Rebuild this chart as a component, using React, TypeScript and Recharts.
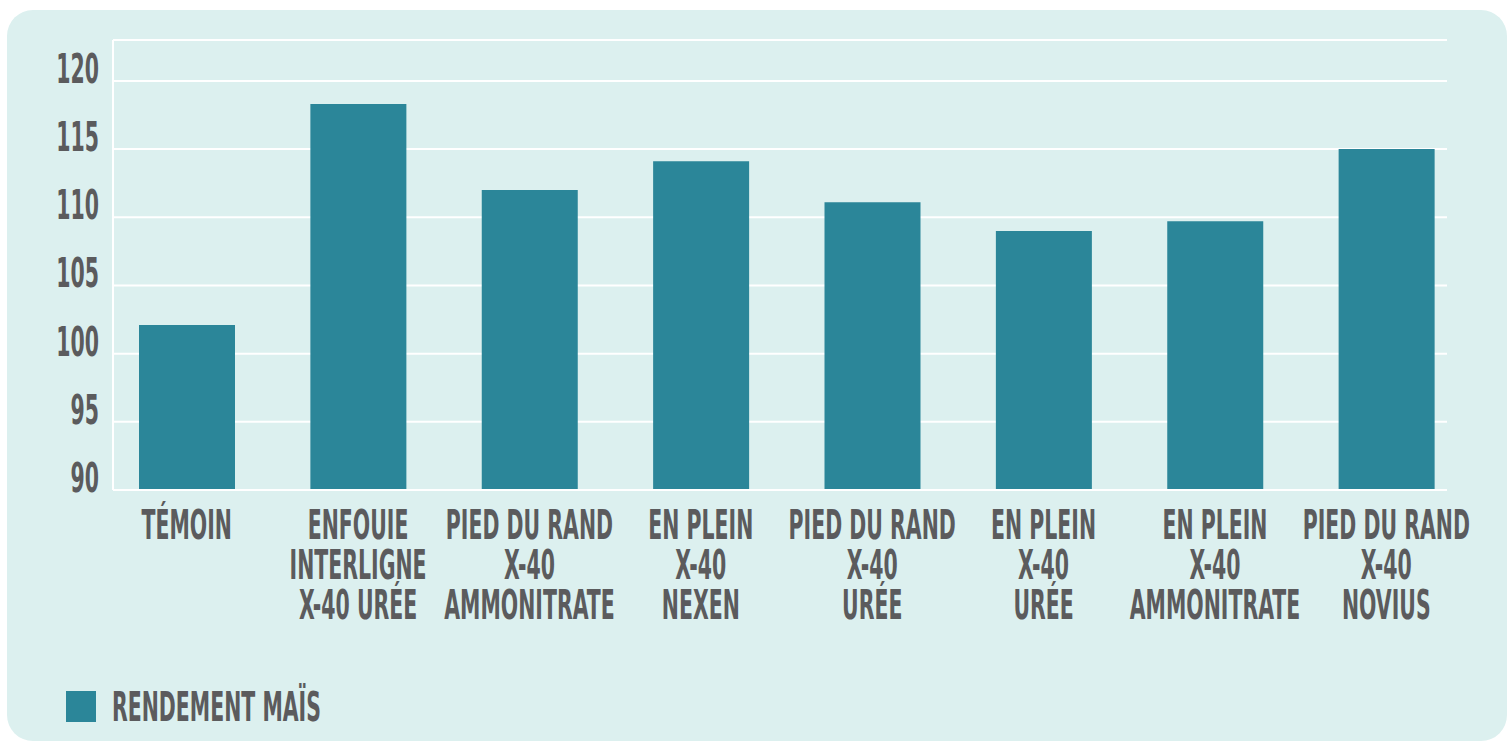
import React from "react";
import { BarChart, Bar, XAxis, YAxis, CartesianGrid } from "recharts";

const categories = [
  "TÉMOIN",
  "ENFOUIE\nINTERLIGNE\nX-40 URÉE",
  "PIED DU RAND\nX-40\nAMMONITRATE",
  "EN PLEIN\nX-40\nNEXEN",
  "PIED DU RAND\nX-40\nURÉE",
  "EN PLEIN\nX-40\nURÉE",
  "EN PLEIN\nX-40\nAMMONITRATE",
  "PIED DU RAND\nX-40\nNOVIUS",
];
const rendement = [102.1, 118.3, 112.0, 114.1, 111.1, 109.0, 109.7, 115.0];
const yTicks = [90, 95, 100, 105, 110, 115, 120];
const seriesName = "RENDEMENT MAÏS";

const data = categories.map((c, i) => ({ name: c, value: rendement[i] }));

const FONT = "'DejaVu Sans Condensed', 'DejaVu Sans', sans-serif";
const TEXT = "#5b5b5d";
const BAR = "#2b8699";
const BG = "#dcf0ef";
const SX = 0.555;

const XTick = (props: any) => {
  const { x, y, payload } = props;
  const lines = String(payload.value).split("\n");
  return (
    <g>
      {lines.map((l, i) => (
        <text
          key={i}
          transform={`translate(${x},${y + 41 + i * 40}) scale(${SX},1)`}
          textAnchor="middle"
          fill={TEXT}
          fontFamily={FONT}
          fontWeight={700}
          fontSize={41}
        >
          {l}
        </text>
      ))}
    </g>
  );
};

const YTick = (props: any) => {
  const { x, y, payload } = props;
  return (
    <text
      transform={`translate(${x - 6},${y + 2}) scale(${SX},1)`}
      textAnchor="end"
      fill={TEXT}
      fontFamily={FONT}
      fontWeight={700}
      fontSize={41}
    >
      {payload.value}
    </text>
  );
};

export default function App() {
  return (
    <div style={{ position: "absolute", left: 0, top: 0, width: 1507, height: 742, background: "#ffffff", overflow: "hidden" }}>
      <div style={{ position: "absolute", left: 7, top: 10, width: 1500, height: 731, background: BG, borderRadius: 26 }} />
      <div style={{ position: "absolute", left: 0, top: 0 }}>
        <BarChart
          width={1507}
          height={742}
          data={data}
          margin={{ top: 40, right: 60, left: 0, bottom: 102 }}
          barCategoryGap={0}
        >
          <CartesianGrid vertical={false} stroke="#ffffff" strokeWidth={2} />
          <XAxis
            dataKey="name"
            interval={0}
            height={150}
            tickLine={false}
            padding={{ left: -12, right: -25 }}
            axisLine={{ stroke: "#ffffff", strokeWidth: 2 }}
            tick={<XTick />}
          />
          <YAxis
            width={113}
            domain={[90, 123]}
            ticks={yTicks}
            allowDataOverflow
            tickLine={false}
            axisLine={{ stroke: "#ffffff", strokeWidth: 2 }}
            tick={<YTick />}
          />
          <Bar dataKey="value" name={seriesName} fill={BAR} barSize={96} isAnimationActive={false} />
        </BarChart>
      </div>
      <div style={{ position: "absolute", left: 66, top: 686, display: "flex", alignItems: "center" }}>
        <div style={{ width: 30, height: 31, background: BAR, marginRight: 16 }} />
        <svg width={260} height={40} style={{ overflow: "visible" }}>
          <text
            transform={`translate(0,35) scale(${SX},1)`}
            fill={TEXT}
            fontFamily={FONT}
            fontWeight={700}
            fontSize={41}
          >
            {seriesName}
          </text>
        </svg>
      </div>
    </div>
  );
}
